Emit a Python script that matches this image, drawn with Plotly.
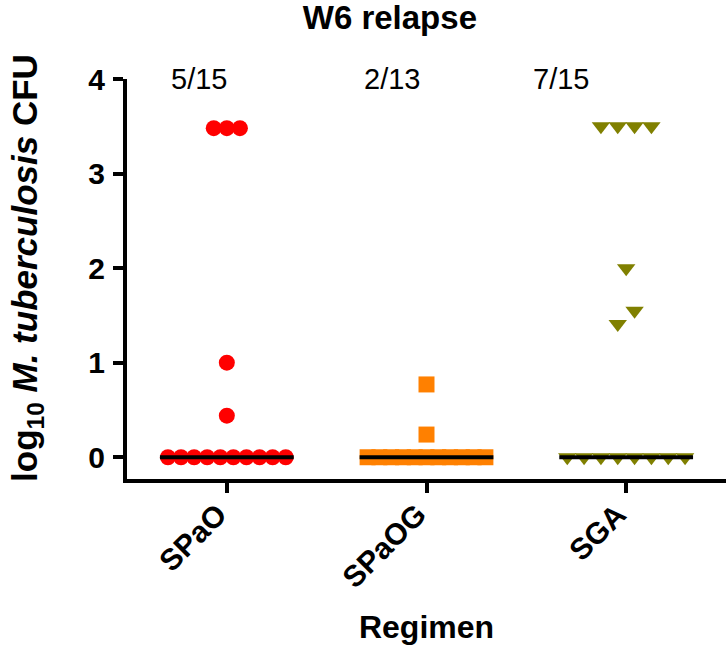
import numpy as np
import plotly.graph_objects as go

# ---- data ----
categories = ["SPaO", "SPaOG", "SGA"]
spao = [3.48, 3.48, 3.48, 1.00, 0.44, 0, 0, 0, 0, 0, 0, 0, 0, 0, 0]
spaog = [0.77, 0.24, 0, 0, 0, 0, 0, 0, 0, 0, 0, 0, 0]
sga = [3.50, 3.50, 3.50, 3.50, 2.00, 1.55, 1.41, 0, 0, 0, 0, 0, 0, 0, 0]
series = [spao, spaog, sga]
y_ticks = [0, 1, 2, 3, 4]

# ---- style ----
colors = ["#FF0000", "#FF8000", "#808000"]
symbols = ["circle", "square", "triangle-down"]
sizes = [16, 16, 16]
half_width = 0.335          # half length of median bar (category units)
marker_units = 0.08         # marker diameter in category units
row_tol = 0.17              # values closer than this share a swarm row
count_label_x = [-0.1375, 0.825, 1.675]
FONT = "Liberation Sans, Arial, sans-serif"


def swarm_offsets(vals):
    vals = np.asarray(vals, dtype=float)
    order = np.argsort(vals, kind="stable")
    rows, cur = [], [order[0]]
    for i in order[1:]:
        if abs(vals[i] - vals[cur[-1]]) < row_tol:
            cur.append(i)
        else:
            rows.append(cur)
            cur = [i]
    rows.append(cur)
    nmax = max(len(r) for r in rows)
    spacing = (2 * half_width - marker_units) / max(nmax - 1, 1)
    off = np.zeros(len(vals))
    for r in rows:
        k = len(r)
        for j, idx in enumerate(r):
            off[idx] = (j - (k - 1) / 2) * spacing
    return off


fig = go.Figure()
for ci, vals in enumerate(series):
    off = swarm_offsets(vals)
    fig.add_trace(go.Scatter(
        x=ci + off, y=vals, mode="markers",
        marker=dict(symbol=symbols[ci], size=sizes[ci], color=colors[ci],
                    line=dict(width=0)),
        showlegend=False, hoverinfo="y", cliponaxis=False,
    ))

for ci, vals in enumerate(series):
    med = float(np.median(vals))
    fig.add_trace(go.Scatter(
        x=[ci - half_width, ci + half_width], y=[med, med], mode="lines",
        line=dict(color="black", width=4), showlegend=False, hoverinfo="skip",
    ))

for ci, vals in enumerate(series):
    n_pos = int(np.sum(np.asarray(vals) > 0))
    fig.add_annotation(
        x=count_label_x[ci], y=4.0, xref="x", yref="y",
        text=f"{n_pos}/{len(vals)}", showarrow=False,
        font=dict(family=FONT, size=29, color="black"),
        xanchor="center", yanchor="middle",
    )

# y-axis title (placed as a rotated annotation to match the reference offset)
fig.add_annotation(
    x=-0.167, y=0.5275, xref="paper", yref="paper",
    text="<b>log<sub>10</sub> <i>M. tuberculosis</i> CFU</b>",
    textangle=-90, showarrow=False, xanchor="center", yanchor="middle",
    font=dict(family=FONT, size=35, color="black"),
)

fig.update_layout(
    width=726, height=645,
    margin=dict(l=127, r=0, t=79, b=166),
    paper_bgcolor="white", plot_bgcolor="white",
    font=dict(family=FONT, color="black"),
    title=dict(text="<b>W6 relapse</b>", x=0.537, xanchor="center",
               y=0.973, yanchor="middle", yref="container",
               font=dict(family=FONT, size=33, color="black")),
)
fig.update_xaxes(
    range=[-0.5, 2.5], tickvals=[0, 1, 2], automargin=False,
    ticktext=[f"<b>{c}</b>" for c in categories],
    tickangle=-45, tickfont=dict(family=FONT, size=30, color="black"),
    ticklabelstandoff=-8, ticklabelshift=-9,
    showline=True, linewidth=4, linecolor="black", mirror=False,
    ticks="outside", ticklen=10, tickwidth=4, tickcolor="black",
    showgrid=False, zeroline=False,
    title=dict(text="<b>Regimen</b>", font=dict(family=FONT, size=32, color="black"),
               standoff=28),
)
fig.update_yaxes(
    range=[-0.23, 4.0], tickvals=y_ticks, automargin=False,
    ticktext=[f"<b>{t}</b>" for t in y_ticks],
    tickfont=dict(family=FONT, size=30, color="black"),
    showline=True, linewidth=4, linecolor="black",
    ticks="outside", ticklen=10, tickwidth=4, tickcolor="black",
    showgrid=False, zeroline=False, ticklabelstandoff=2,
)

fig.write_html("out.html", config={"displayModeBar": False},
               post_script="document.body.style.margin='0';")
